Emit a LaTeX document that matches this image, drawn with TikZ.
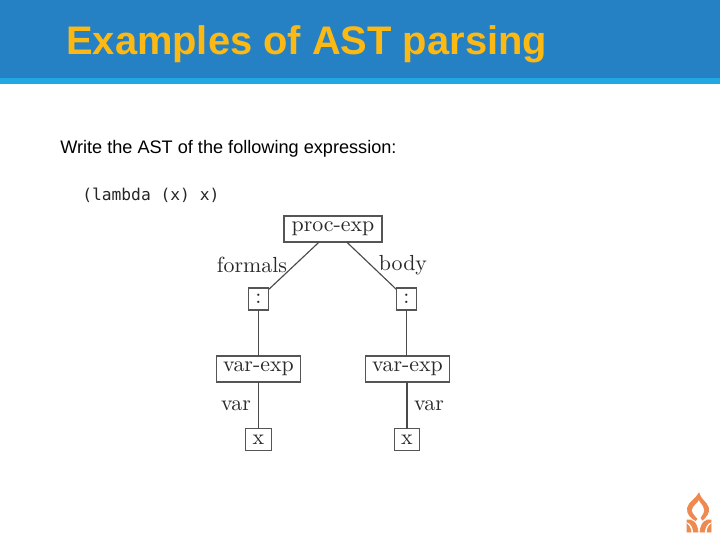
\documentclass[tikz,border=0pt]{standalone}
\usepackage{fontspec}
\setmainfont{Latin Modern Roman}
\newfontfamily\arialf{Liberation Sans}
\newfontfamily\monof{DejaVu Sans Mono}
\newfontfamily\astf[Extension=.otf]{lmroman10-regular}
\definecolor{hdr}{HTML}{2680C4}
\definecolor{strip}{HTML}{1FA8E2}
\definecolor{ttl}{HTML}{FCB913}
\definecolor{logoc}{HTML}{EE8A50}
\definecolor{boxc}{HTML}{555555}
\definecolor{inkc}{HTML}{2A2A2A}
\tikzset{
 astbox/.style={draw=boxc,line width=0.8pt,fill=white,inner sep=0pt,outer sep=0pt,text=inkc,font=\astf\fontsize{16.4}{18}\selectfont,minimum height=#1},
 astlabel/.style={inner sep=0pt,text=inkc,font=\astf\fontsize{16.4}{18}\selectfont},
 edge/.style={draw=inkc!85,line width=0.85pt},
 logopart/.style={fill=logoc,draw=logoc,line width=0.5pt},
}
\begin{document}
\begin{tikzpicture}[x=0.75pt,y=-0.75pt]
\useasboundingbox (0,0) rectangle (720,540);
\fill[white] (0,0) rectangle (720,540);
\fill[hdr] (0,0) rectangle (720,78);
\fill[strip] (0,78) rectangle (720,84);
\node[anchor=base west,inner sep=0pt,text=ttl,font=\arialf\bfseries\fontsize{29.9}{32}\selectfont] (title) at (66,54) {Examples of AST parsing};
\node[anchor=base west,inner sep=0pt,font=\arialf\fontsize{13.6}{15}\selectfont] (prompt) at (60,153) {Write the AST of the following expression:};
\node[anchor=base west,inner sep=0pt,text=black!85,font=\monof\fontsize{12.2}{14}\selectfont] (code) at (82,200) {(lambda (x) x)};
% tree
\node[astbox=19.5pt,minimum width=73.5pt] (p) at (333,229) {proc-exp};
\node[astbox=16.5pt,minimum width=15.5pt] (c1) at (258.5,299) {:};
\node[astbox=16.5pt,minimum width=15.5pt] (c2) at (406.5,299) {:};
\node[astbox=19.5pt,minimum width=63.5pt] (v1) at (258.5,369) {var-exp};
\node[astbox=19.5pt,minimum width=63.5pt] (v2) at (407.5,369) {var-exp};
\node[astbox=16pt,minimum width=19pt] (x1) at (258.5,439.5) {x};
\node[astbox=16pt,minimum width=19pt] (x2) at (407,439.5) {x};
\draw[edge] (p) -- (c1);
\draw[edge] (p) -- (c2);
\draw[edge] (c1) -- (c1|-v1.north);
\draw[edge] (c2) -- (c2|-v2.north);
\draw[edge] (v1.south) -- (v1.south|-x1.north);
\draw[edge] (x2.north) -- (x2|-v2.south);
\node[astlabel,anchor=base] (lf) at (252,272) {formals};
\node[astlabel,anchor=base] (lb) at (403,270.5) {body};
\node[astlabel,anchor=base] (l1) at (236,410) {var};
\node[astlabel,anchor=base] (l2) at (429,410) {var};
% logo
\path[logopart] (699,493) .. controls (700,499) and (707,502) .. (708.5,508) .. controls (709.5,513) and (706,517) .. (702.5,520) -- (701,518)
 .. controls (703,515) and (705.5,512) .. (704,508) .. controls (703,504) and (700,503) .. (699,499) .. controls (697,504) and (692,505) .. (691.5,510) .. controls (691.5,514) and (695,516) .. (697,519) -- (695.5,520.5) .. controls (691,518) and (686.5,514) .. (687.5,508) .. controls (688.5,502) and (696,499) .. (699,493) -- cycle;
\path[logopart] (687,520) .. controls (692,519) and (697,522) .. (698,532) -- (693.5,532) .. controls (693,527) and (691,523) .. (687,522) -- cycle;
\path[logopart] (711,520) .. controls (706,519) and (701,522) .. (700,532) -- (704.5,532) .. controls (705,527) and (707,523) .. (711,522) -- cycle;
\path[logopart] (687,524) .. controls (689,525) and (690.5,528) .. (691,532) -- (687,532) -- cycle;
\path[logopart] (711,524) .. controls (709,525) and (707.5,528) .. (707,532) -- (711,532) -- cycle;
\end{tikzpicture}
\end{document}
